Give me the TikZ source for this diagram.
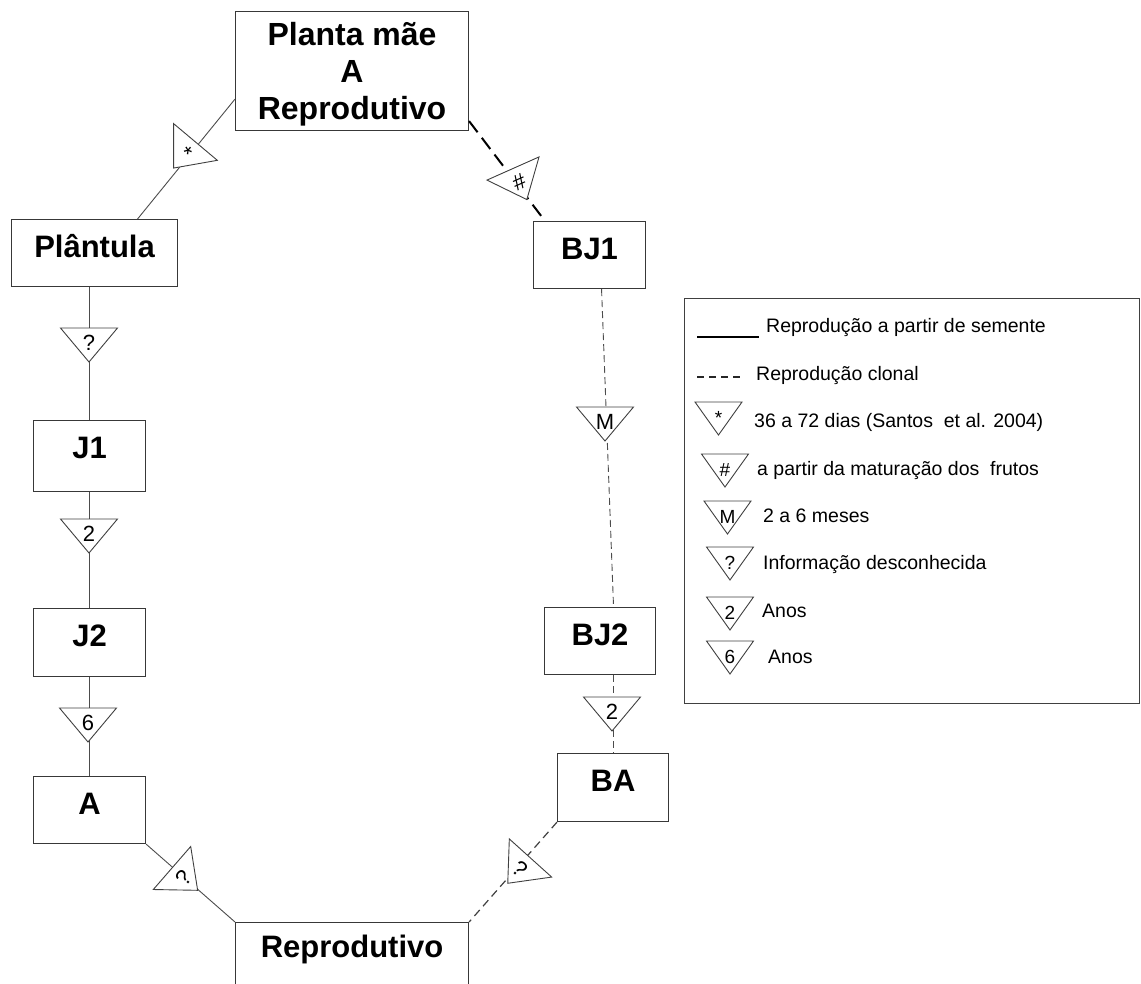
\documentclass[tikz,border=0pt]{standalone}
\usepackage{fontspec}
\setmainfont{Liberation Sans}
\usetikzlibrary{calc}
\tikzset{
  every picture/.style={x=1pt,y=-1pt},
  box/.style={draw=black!78, line width=1.1pt, fill=white, inner sep=0pt, anchor=north west,
    font=\bfseries\fontsize{31}{37}\selectfont, text height=38pt},
  topbox/.style={draw=black!78, line width=1.1pt, fill=white, inner sep=0pt, anchor=north west,
    align=center, font=\bfseries\fontsize{32}{37}\selectfont},
  seed/.style={draw=black!70, line width=0.9pt},
  clonebig/.style={draw=black, line width=2pt, dash pattern=on 14pt off 7pt},
  clonethin/.style={draw=black!70, line width=0.9pt, dash pattern=on 7pt off 4pt},
  clonemid/.style={draw=black!75, line width=1.2pt, dash pattern=on 8pt off 5pt},
  tri/.style={draw=black!75, line width=0.9pt, fill=white},
  mktxt/.style={inner sep=0pt, font=\fontsize{22}{24}\selectfont, transform shape},
  lktxt/.style={inner sep=0pt, font=\fontsize{19}{21}\selectfont},
  legtxt/.style={inner sep=0pt, anchor=base west, font=\fontsize{19.5}{22}\selectfont},
  mk/.pic={\draw[tri] (-28.5,0) -- (28.5,0) -- (0,34) -- cycle; \node[mktxt] (-l) at (0,15) {#1};},
  lk/.pic={\draw[tri] (-23.5,0) -- (23.5,0) -- (0,33) -- cycle; \node[lktxt] (-l) at (0,16) {#1};},
}
\begin{document}
\begin{tikzpicture}
\useasboundingbox (0,0) rectangle (1141,983);

% boxes
\node[topbox, minimum width=233pt, minimum height=119pt, text height=104pt, text depth=7pt] (top) at (235,11) {Planta mãe\\A\\Reprodutivo};
\node[box, minimum width=166pt, text depth=29pt] (plantula) at (11,219) {Plântula};
\node[box, minimum width=112pt, text depth=33pt] (j1) at (33,420) {J1};
\node[box, minimum width=112pt, text depth=30pt] (j2) at (33,608) {J2};
\node[box, minimum width=112pt, text depth=29pt] (a) at (33,776) {A};
\node[box, minimum width=112pt, text depth=29pt] (bj1) at (533,221) {BJ1};
\node[box, minimum width=111pt, text depth=29pt] (bj2) at (544,607) {BJ2};
\node[box, minimum width=111pt, text depth=30pt] (ba) at (557,753) {BA};
\node[box, minimum width=233pt, text height=35pt, text depth=45pt] (rep) at (235,922) {Reprodutivo};

% connectors
\draw[seed] ([yshift=32pt]top.south west) -- ([xshift=43pt]plantula.north);
\draw[seed] (j1.north |- plantula.south) -- (j1.north);
\draw[seed] (j1.south) -- (j2.north);
\draw[seed] (j2.south) -- (a.north);
\draw[seed] (a.south east) -- (rep.north west);
\draw[clonebig] ([yshift=10pt]top.south east) -- ([xshift=12pt]bj1.north west);
\draw[clonethin] ([xshift=12pt]bj1.south) -- ([xshift=13.5pt]bj2.north);
\draw[clonethin] (ba.north |- bj2.south) -- (ba.north);
\draw[clonemid] (ba.south west) -- (rep.north east);

% markers
\pic[rotate=-40] (m1) at (195.5,142) {mk=*};
\pic[rotate=24] (m2) at (513,168.5) {mk=\#};
\pic (m3) at (89,328) {mk=?};
\pic (m4) at (89,519) {mk=2};
\pic (m5) at (88,708) {mk=6};
\pic[rotate=49] (m6) at (172,868) {mk=?};
\pic (m7) at (605,407) {mk=M};
\pic (m8) at (612,697) {mk=2};
\pic[rotate=-42] (m9) at (530.5,858) {mk=?};

% legend
\node[draw=black!75, line width=1.1pt, inner sep=0pt, anchor=north west, minimum width=455pt, minimum height=405pt] (leg) at (684,298) {};
\draw[line width=2pt] (697,337) -- (759,337);
\node[legtxt] (l1) at (766,332) {Reprodução a partir de semente};
\draw[black!85, line width=1.1pt, dash pattern=on 7pt off 5pt] (697,377) -- (740,377);
\node[legtxt] (l2) at (756,380.5) {Reprodução clonal};
\pic (k1) at (718.5,402) {lk=*};
\node[legtxt] (l3) at (754,427) {36 a 72 dias (Santos~~et al. 2004)};
\pic (k2) at (725,454) {lk=\#};
\node[legtxt] (l4) at (757,475) {a partir da maturação dos~~frutos};
\pic (k3) at (727.5,501) {lk=M};
\node[legtxt] (l5) at (763,522) {2 a 6 meses};
\pic (k4) at (730,547) {lk=?};
\node[legtxt] (l6) at (763,569) {Informação desconhecida};
\pic (k5) at (730,597) {lk=2};
\node[legtxt] (l7) at (762,617) {Anos};
\pic (k6) at (730,641) {lk=6};
\node[legtxt] (l8) at (768,663) {Anos};
\end{tikzpicture}
\end{document}
